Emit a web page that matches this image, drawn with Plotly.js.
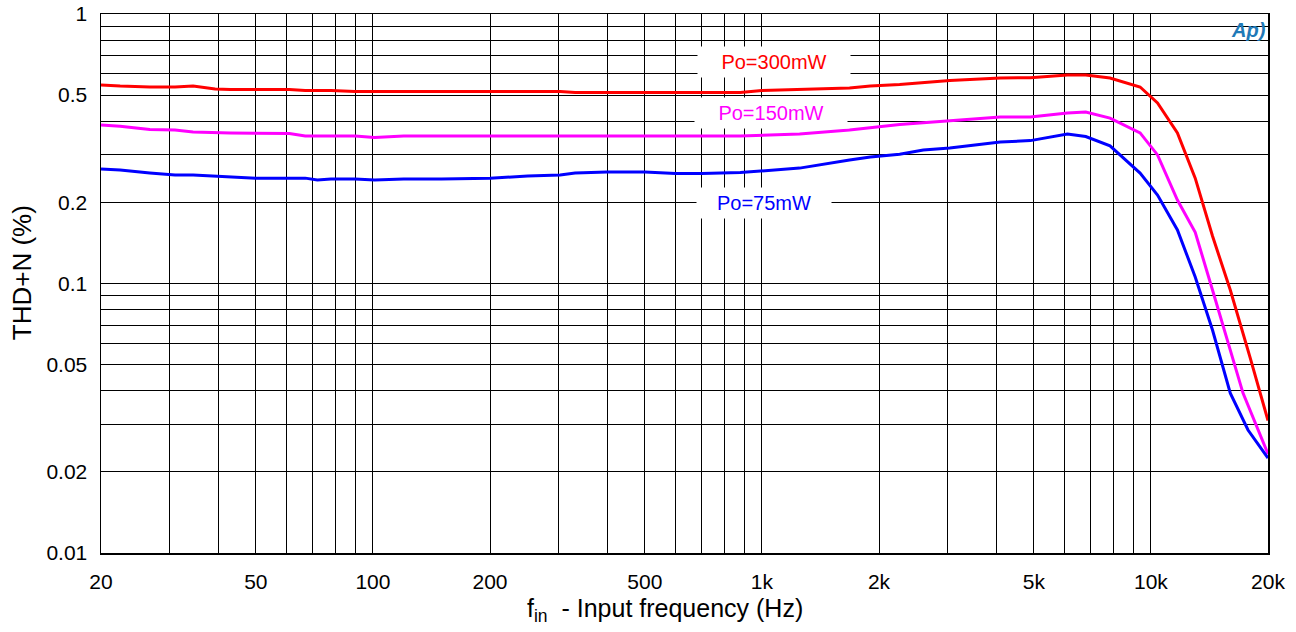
<!DOCTYPE html>
<html>
<head>
<meta charset="utf-8">
<script src="https://cdn.plot.ly/plotly-3.0.1.min.js"></script>
<style>
  html, body { margin: 0; padding: 0; background: #ffffff; }
  #chart { width: 1296px; height: 632px; }
</style>
</head>
<body>
<div id="chart"></div>
<script>
// ---- Data ----
const freqs300 = [20, 22.4, 26.7, 31, 34.5, 39.3, 43, 61, 67, 78, 90, 101, 303, 331, 880, 1000, 1250, 1680, 1900, 2260, 3040, 4100, 4900, 6100, 6800, 7850, 9380, 10400, 11700, 13000, 14400, 16000, 18000, 20000];
const thd300   = [0.545, 0.540, 0.536, 0.536, 0.540, 0.527, 0.525, 0.525, 0.520, 0.520, 0.516, 0.516, 0.516, 0.511, 0.511, 0.520, 0.525, 0.531, 0.540, 0.547, 0.567, 0.579, 0.580, 0.594, 0.594, 0.579, 0.536, 0.4675, 0.362, 0.246, 0.150, 0.0946, 0.053, 0.031];

const freqs150 = [20, 22.4, 26.7, 31, 34.5, 43, 61, 67, 90, 101, 120, 303, 880, 1250, 1680, 2260, 3040, 4100, 4900, 6100, 6800, 7850, 9380, 10400, 11700, 13000, 14400, 16000, 17250, 20000];
const thd150   = [0.387, 0.383, 0.373, 0.371, 0.365, 0.362, 0.360, 0.3526, 0.3526, 0.348, 0.3526, 0.3526, 0.3526, 0.359, 0.371, 0.389, 0.401, 0.415, 0.415, 0.429, 0.433, 0.411, 0.362, 0.300, 0.204, 0.155, 0.0946, 0.0566, 0.0392, 0.0233];

const freqs75 = [20, 22.4, 26.7, 31, 34.5, 39.3, 43, 50, 61, 67, 72, 78, 90, 101, 120, 150, 200, 250, 303, 331, 400, 500, 600, 700, 880, 1000, 1250, 1680, 1900, 2260, 2600, 3040, 4100, 4900, 6100, 6800, 7850, 9380, 10400, 11700, 13000, 14400, 15300, 16000, 17770, 20000];
const thd75   = [0.266, 0.2637, 0.257, 0.2526, 0.2526, 0.2505, 0.249, 0.246, 0.246, 0.246, 0.242, 0.244, 0.244, 0.242, 0.244, 0.244, 0.246, 0.2505, 0.2526, 0.257, 0.2593, 0.2593, 0.256, 0.256, 0.258, 0.2615, 0.268, 0.287, 0.2946, 0.302, 0.313, 0.318, 0.335, 0.339, 0.359, 0.351, 0.324, 0.257, 0.213, 0.158, 0.1057, 0.0672, 0.049, 0.0392, 0.0286, 0.0225];

const seriesNames = ["Po=300mW", "Po=150mW", "Po=75mW"];

const xGridVals = [20, 30, 40, 50, 60, 70, 80, 90, 100, 200, 300, 400, 500, 600, 700, 800, 900, 1000, 2000, 3000, 4000, 5000, 6000, 7000, 8000, 9000, 10000, 20000];
const xLabelVals = [20, 50, 100, 200, 500, 1000, 2000, 5000, 10000, 20000];
const xLabelText = ["20", "50", "100", "200", "500", "1k", "2k", "5k", "10k", "20k"];

const yGridVals = [0.01, 0.02, 0.03, 0.04, 0.05, 0.06, 0.07, 0.08, 0.09, 0.1, 0.2, 0.3, 0.4, 0.5, 0.6, 0.7, 0.8, 0.9, 1];
const yLabelVals = [0.01, 0.02, 0.05, 0.1, 0.2, 0.5, 1];
const yLabelText = ["0.01", "0.02", "0.05", "0.1", "0.2", "0.5", "1"];

const xTitle = "f<sub>in</sub>  - Input frequency (Hz)";
const yTitle = "THD+N (%)";

// ---- Build ----
function labelsFor(grid, vals, texts) {
  return grid.map(v => {
    const i = vals.indexOf(v);
    return i >= 0 ? texts[i] : "";
  });
}

const colors = ["#ff0000", "#ff00ff", "#0000ff"];
const xs = [freqs300, freqs150, freqs75];
const ys = [thd300, thd150, thd75];

const traces = xs.map((x, i) => ({
  type: "scatter",
  mode: "lines",
  x: x,
  y: ys[i],
  name: seriesNames[i],
  line: { color: colors[i], width: 3 },
  hoverinfo: "x+y+name"
}));

const font = "Liberation Sans, Arial, sans-serif";

const axisCommon = {
  type: "log",
  tickmode: "array",
  showgrid: true,
  gridcolor: "#000000",
  gridwidth: 1,
  showline: true,
  linecolor: "#000000",
  linewidth: 1.5,
  mirror: true,
  ticks: "outside",
  ticklen: 9,
  tickcolor: "rgba(0,0,0,0)",
  tickfont: { family: font, size: 21, color: "#000000" },
  zeroline: false
};

const layout = {
  width: 1296,
  height: 632,
  margin: { l: 101, r: 28, t: 14, b: 79 },
  paper_bgcolor: "#ffffff",
  plot_bgcolor: "#ffffff",
  showlegend: false,
  font: { family: font, color: "#000000" },
  xaxis: Object.assign({}, axisCommon, {
    range: [Math.log10(20), Math.log10(20000)],
    tickvals: xGridVals,
    ticktext: labelsFor(xGridVals, xLabelVals, xLabelText)
  }),
  yaxis: Object.assign({}, axisCommon, {
    range: [-2, 0],
    tickvals: yGridVals,
    ticktext: labelsFor(yGridVals, yLabelVals, yLabelText),
    ticklen: 8
  }),
  annotations: [
    {
      x: Math.log10(1074), y: Math.log10(0.664), xref: "x", yref: "y",
      text: seriesNames[0], showarrow: false,
      font: { family: font, size: 20, color: colors[0] },
      bgcolor: "#ffffff", width: 150, height: 28, align: "center"
    },
    {
      x: Math.log10(1056), y: Math.log10(0.429), xref: "x", yref: "y",
      text: seriesNames[1], showarrow: false,
      font: { family: font, size: 20, color: colors[1] },
      bgcolor: "#ffffff", width: 150, height: 28, align: "center"
    },
    {
      x: Math.log10(1010), y: Math.log10(0.199), xref: "x", yref: "y",
      text: seriesNames[2], showarrow: false,
      font: { family: font, size: 20, color: colors[2] },
      bgcolor: "#ffffff", width: 132, height: 28, align: "center"
    },
    {
      x: 0.4833, y: -0.105, xref: "paper", yref: "paper",
      xanchor: "center", yanchor: "middle",
      text: xTitle, showarrow: false,
      font: { family: font, size: 25, color: "#000000" }
    },
    {
      x: -0.0677, y: 0.521, xref: "paper", yref: "paper",
      xanchor: "center", yanchor: "middle", textangle: -90,
      text: yTitle, showarrow: false,
      font: { family: font, size: 26, color: "#000000" }
    },
    {
      x: 0.9837, y: 0.970, xref: "paper", yref: "paper",
      xanchor: "center", yanchor: "middle",
      text: "<b><i>Ap)</i></b>", showarrow: false,
      font: { family: font, size: 20, color: "#1f7ab8" }
    }
  ]
};

Plotly.newPlot("chart", traces, layout, { staticPlot: true, displayModeBar: false });
</script>
</body>
</html>
